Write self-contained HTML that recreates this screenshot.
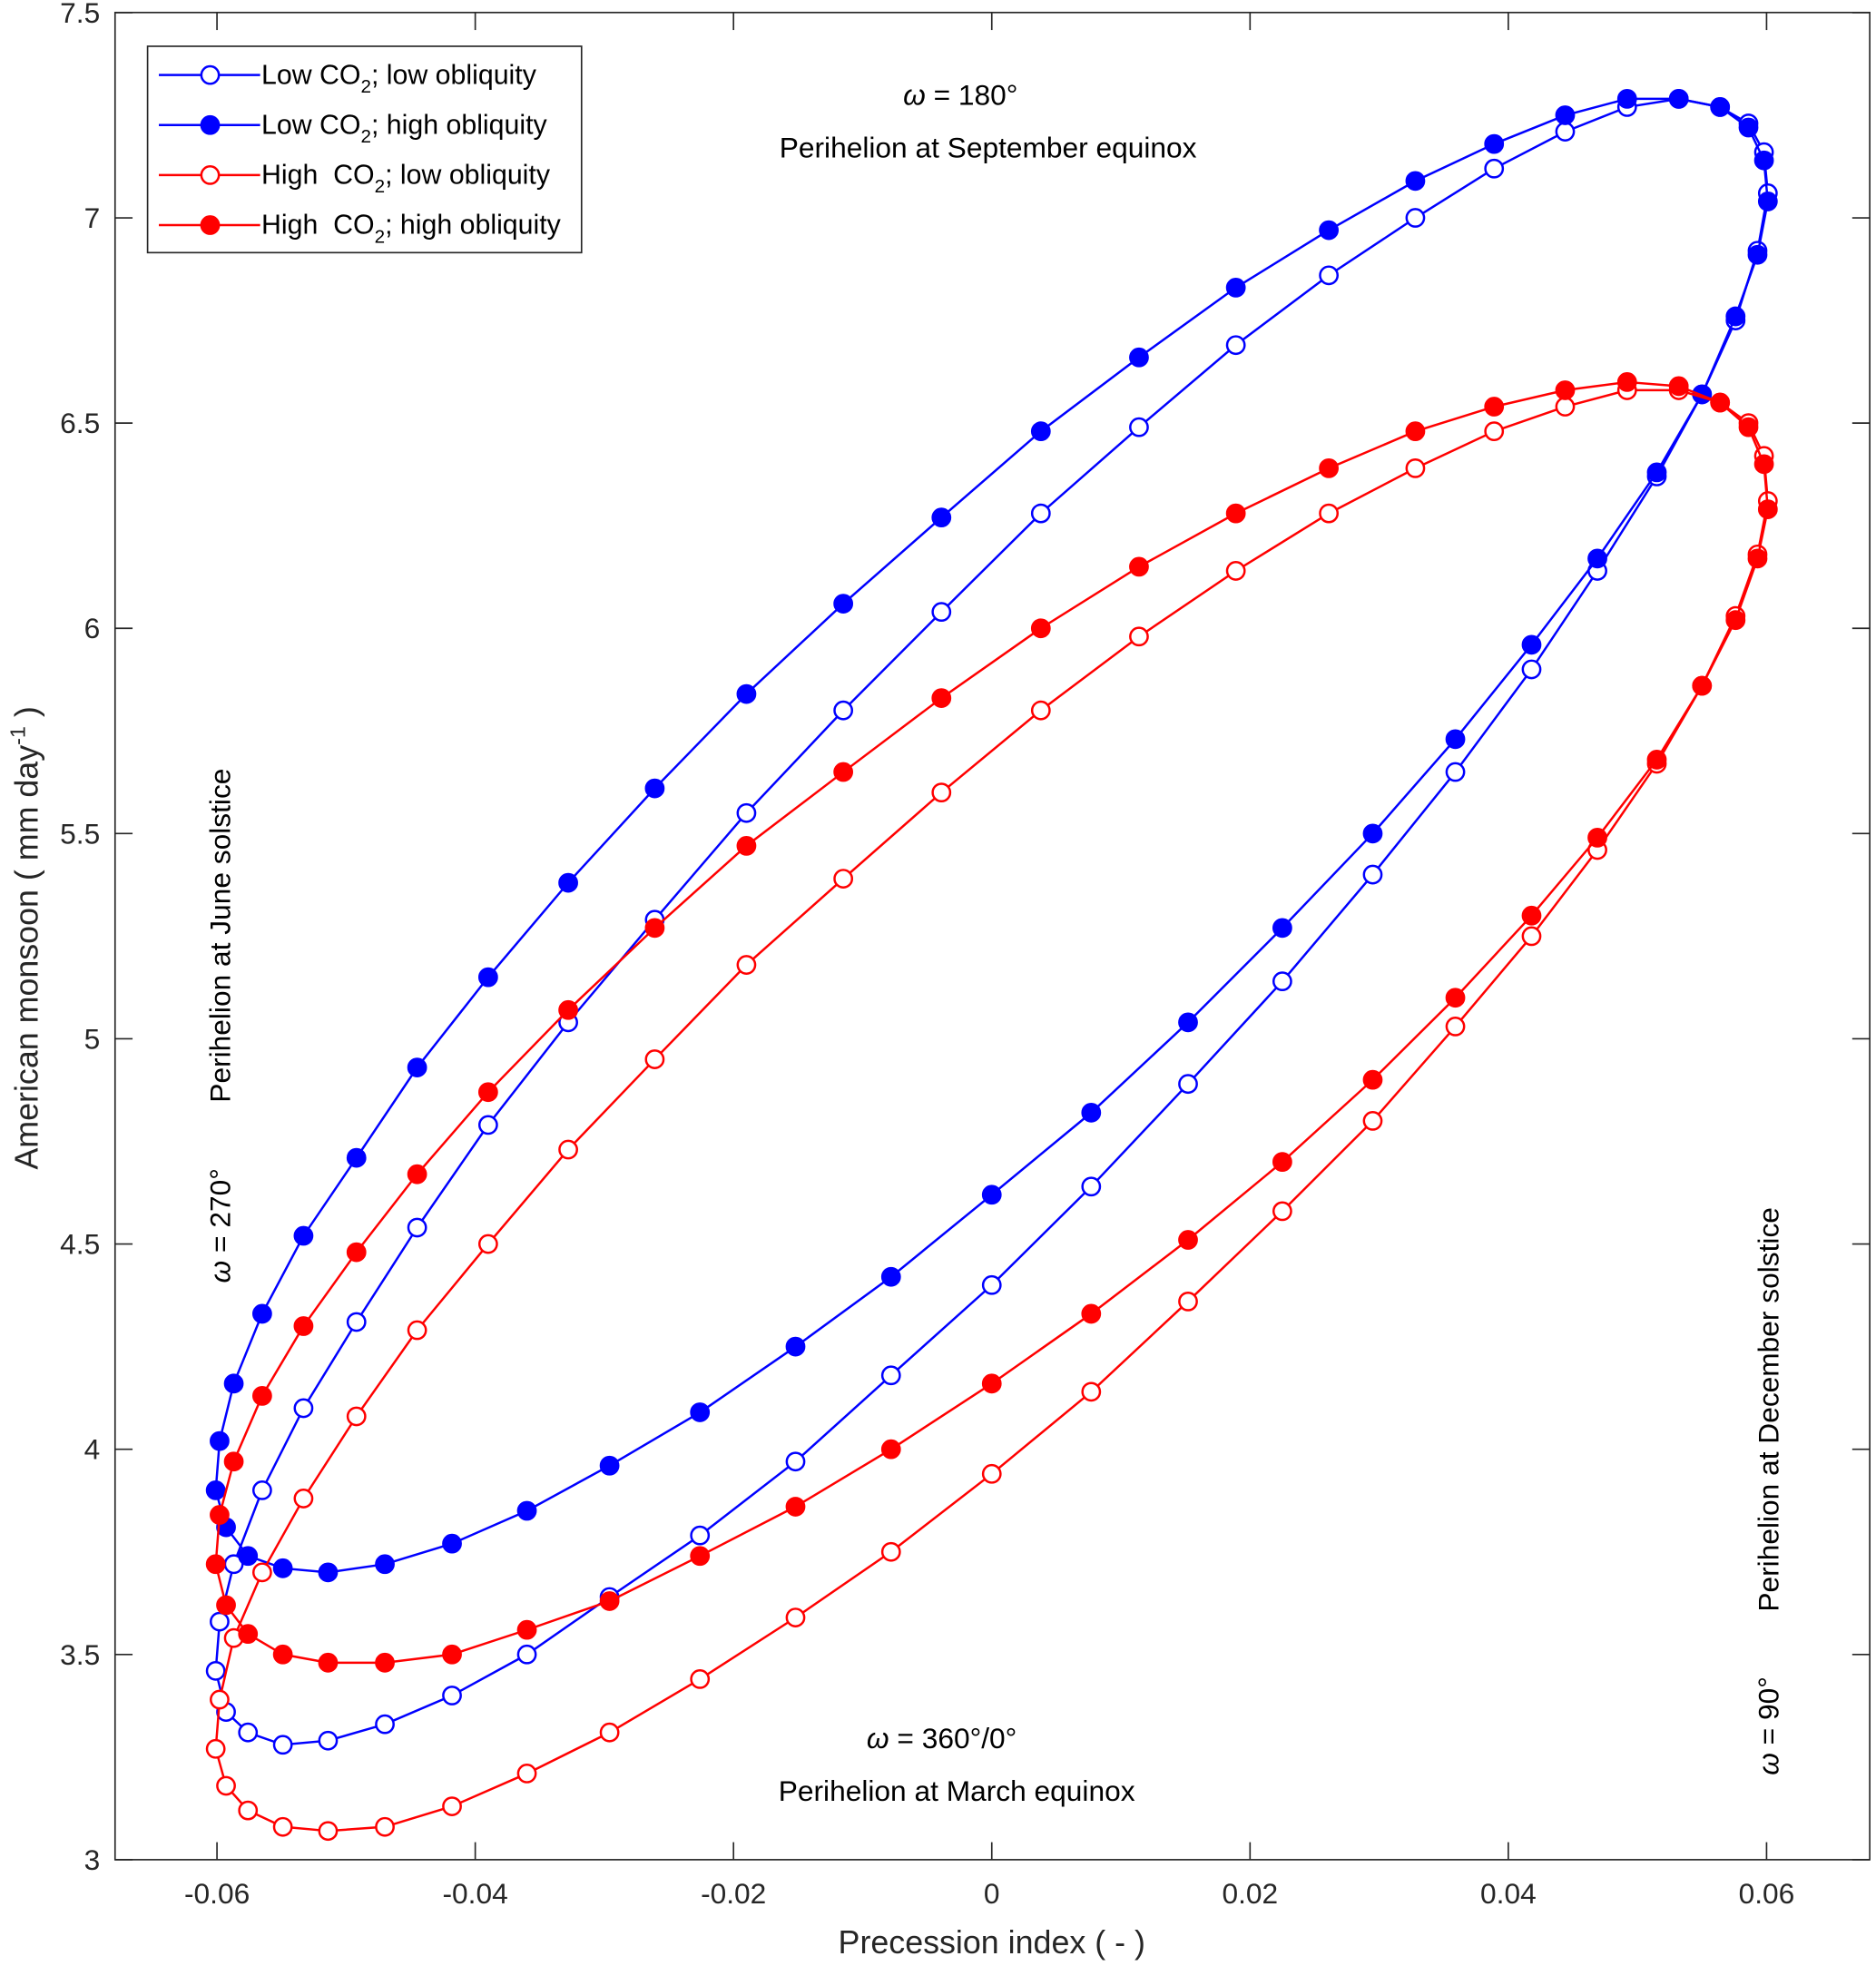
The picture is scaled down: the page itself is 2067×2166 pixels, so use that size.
<!DOCTYPE html>
<html><head><meta charset="utf-8"><style>
html,body{margin:0;padding:0;background:#fff;}
svg{display:block;font-family:"Liberation Sans",Arial,sans-serif;}
</style></head><body>
<svg id="chart" width="2067" height="2166" viewBox="0 0 1500 1572" preserveAspectRatio="none" xmlns="http://www.w3.org/2000/svg">
<rect x="0" y="0" width="1500" height="1572" fill="#fff"/>
<g id="plot"></g>
<g id="axes"></g>
<text x="793" y="1562" font-size="26" text-anchor="middle" fill="#262626">Precession index ( - )</text>
<text transform="translate(30,750) rotate(-90)" font-size="26" text-anchor="middle" fill="#262626">American monsoon ( mm day<tspan dy="-10" font-size="17">-1</tspan><tspan dy="10"> )</tspan></text>
<text x="768" y="84" font-size="23" text-anchor="middle"><tspan font-style="italic">ω</tspan> = 180°</text>
<text x="790" y="126" font-size="23" text-anchor="middle">Perihelion at September equinox</text>
<text x="753" y="1398" font-size="23" text-anchor="middle"><tspan font-style="italic">ω</tspan> = 360°/0°</text>
<text x="765" y="1440" font-size="23" text-anchor="middle">Perihelion at March equinox</text>
<text transform="translate(184,748) rotate(-90)" font-size="23" text-anchor="middle">Perihelion at June solstice</text>
<text transform="translate(184,980) rotate(-90)" font-size="23" text-anchor="middle"><tspan font-style="italic">ω</tspan> = 270°</text>
<text transform="translate(1422,1127) rotate(-90)" font-size="23" text-anchor="middle">Perihelion at December solstice</text>
<text transform="translate(1422,1380) rotate(-90)" font-size="23" text-anchor="middle"><tspan font-style="italic">ω</tspan> = 90°</text>
<g id="legend"></g>
</svg>
<script>
const xTicks=[-0.06,-0.04,-0.02,0,0.02,0.04,0.06];
const xTickLabels=["-0.06","-0.04","-0.02","0","0.02","0.04","0.06"];
const yTicks=[3,3.5,4,4.5,5,5.5,6,6.5,7,7.5];
const yTickLabels=["3","3.5","4","4.5","5","5.5","6","6.5","7","7.5"];
const precession=[-0.0601,-0.0598,-0.0587,-0.0565,-0.0533,-0.0492,-0.0445,-0.0390,-0.0328,-0.0261,-0.0190,-0.0115,-0.0039,0.0038,0.0114,0.0189,0.0261,0.0328,0.0389,0.0444,0.0492,0.0532,0.0564,0.0586,0.0598,0.0601,0.0593,0.0576,0.0550,0.0515,0.0469,0.0418,0.0359,0.0295,0.0225,0.0152,0.0077,0,-0.0078,-0.0152,-0.0226,-0.0296,-0.0360,-0.0418,-0.0470,-0.0514,-0.0549,-0.0576,-0.0593];
const lowCO2LowObl=[3.46,3.58,3.72,3.90,4.10,4.31,4.54,4.79,5.04,5.29,5.55,5.80,6.04,6.28,6.49,6.69,6.86,7.00,7.12,7.21,7.27,7.29,7.27,7.23,7.16,7.06,6.92,6.75,6.57,6.37,6.14,5.90,5.65,5.40,5.14,4.89,4.64,4.40,4.18,3.97,3.79,3.64,3.50,3.40,3.33,3.29,3.28,3.31,3.36];
const lowCO2HighObl=[3.90,4.02,4.16,4.33,4.52,4.71,4.93,5.15,5.38,5.61,5.84,6.06,6.27,6.48,6.66,6.83,6.97,7.09,7.18,7.25,7.29,7.29,7.27,7.22,7.14,7.04,6.91,6.76,6.57,6.38,6.17,5.96,5.73,5.50,5.27,5.04,4.82,4.62,4.42,4.25,4.09,3.96,3.85,3.77,3.72,3.70,3.71,3.74,3.81];
const highCO2LowObl=[3.27,3.39,3.54,3.70,3.88,4.08,4.29,4.50,4.73,4.95,5.18,5.39,5.60,5.80,5.98,6.14,6.28,6.39,6.48,6.54,6.58,6.58,6.55,6.50,6.42,6.31,6.18,6.03,5.86,5.67,5.46,5.25,5.03,4.80,4.58,4.36,4.14,3.94,3.75,3.59,3.44,3.31,3.21,3.13,3.08,3.07,3.08,3.12,3.18];
const highCO2HighObl=[3.72,3.84,3.97,4.13,4.30,4.48,4.67,4.87,5.07,5.27,5.47,5.65,5.83,6.00,6.15,6.28,6.39,6.48,6.54,6.58,6.60,6.59,6.55,6.49,6.40,6.29,6.17,6.02,5.86,5.68,5.49,5.30,5.10,4.90,4.70,4.51,4.33,4.16,4.00,3.86,3.74,3.63,3.56,3.50,3.48,3.48,3.50,3.55,3.62];
const seriesNames=["Low CO2; low obliquity","Low CO2; high obliquity","High  CO2; low obliquity","High  CO2; high obliquity"];

const NS="http://www.w3.org/2000/svg";
const L=92,R=1495,T=10,B=1487;
function X(v){return 793+v/0.02*206.5;}
function Y(v){return B-(v-3)/0.5*164.1;}
function mk(tag,attrs,parent){const e=document.createElementNS(NS,tag);for(const k in attrs)e.setAttribute(k,attrs[k]);parent.appendChild(e);return e;}
const plot=document.getElementById('plot'),axes=document.getElementById('axes');

const series=[
 {vals:lowCO2LowObl,color:"#0000ff",filled:false,name:"series-low-co2-low-obliquity"},
 {vals:lowCO2HighObl,color:"#0000ff",filled:true,name:"series-low-co2-high-obliquity"},
 {vals:highCO2LowObl,color:"#ff0000",filled:false,name:"series-high-co2-low-obliquity"},
 {vals:highCO2HighObl,color:"#ff0000",filled:true,name:"series-high-co2-high-obliquity"}
];
series.forEach(s=>{
 const g=mk('g',{},plot);
 
 
 let d="";
 s.vals.forEach((v,i)=>{d+=(i?"L":"M")+X(precession[i]).toFixed(1)+","+Y(v).toFixed(1);});
 d+="Z";
 const p=mk('path',{d:d,fill:"none",stroke:s.color,"stroke-width":1.8},g);
 
 
 s.vals.forEach((v,i)=>{
  const c=mk('circle',{cx:X(precession[i]),cy:Y(v),r:7,fill:s.filled?s.color:"#fff",stroke:s.color,"stroke-width":1.8},g);
  
  
 });
});

mk('rect',{x:L,y:T,width:R-L,height:B-T,fill:"none",stroke:"#262626","stroke-width":1.2},axes);
xTicks.forEach((t,i)=>{
 const x=X(t);
 mk('line',{x1:x,y1:B,x2:x,y2:B-14,stroke:"#262626","stroke-width":1.2},axes);
 mk('line',{x1:x,y1:T,x2:x,y2:T+14,stroke:"#262626","stroke-width":1.2},axes);
 const tx=mk('text',{x:x,y:B+35,"font-size":23,"text-anchor":"middle",fill:"#262626"},axes);
 tx.textContent=xTickLabels[i];
 
 
});
yTicks.forEach((t,i)=>{
 const y=Y(t);
 mk('line',{x1:L,y1:y,x2:L+14,y2:y,stroke:"#262626","stroke-width":1.2},axes);
 mk('line',{x1:R,y1:y,x2:R-14,y2:y,stroke:"#262626","stroke-width":1.2},axes);
 const tx=mk('text',{x:L-12,y:y+8,"font-size":23,"text-anchor":"end",fill:"#262626"},axes);
 tx.textContent=yTickLabels[i];
 
 
});

const lg=document.getElementById('legend');
mk('rect',{x:118,y:37,width:347,height:165,fill:"#fff",stroke:"#262626","stroke-width":1.2},lg);
series.forEach((s,i)=>{
 const y=60+i*40;
 const e=mk('g',{},lg);
 
 
 mk('line',{x1:127,y1:y,x2:208,y2:y,stroke:s.color,"stroke-width":1.8},e);
 mk('circle',{cx:168,cy:y,r:7,fill:s.filled?s.color:"#fff",stroke:s.color,"stroke-width":1.8},e);
 const parts=seriesNames[i].split("CO2");
 const t=mk('text',{x:209,y:y+7,"font-size":22,fill:"#000"},e);
 t.innerHTML=parts[0].replace(/ /g,"&#160;")+"CO<tspan dy='7' font-size='15'>2</tspan><tspan dy='-7'>"+parts[1]+"</tspan>";
});
</script>
</body></html>
